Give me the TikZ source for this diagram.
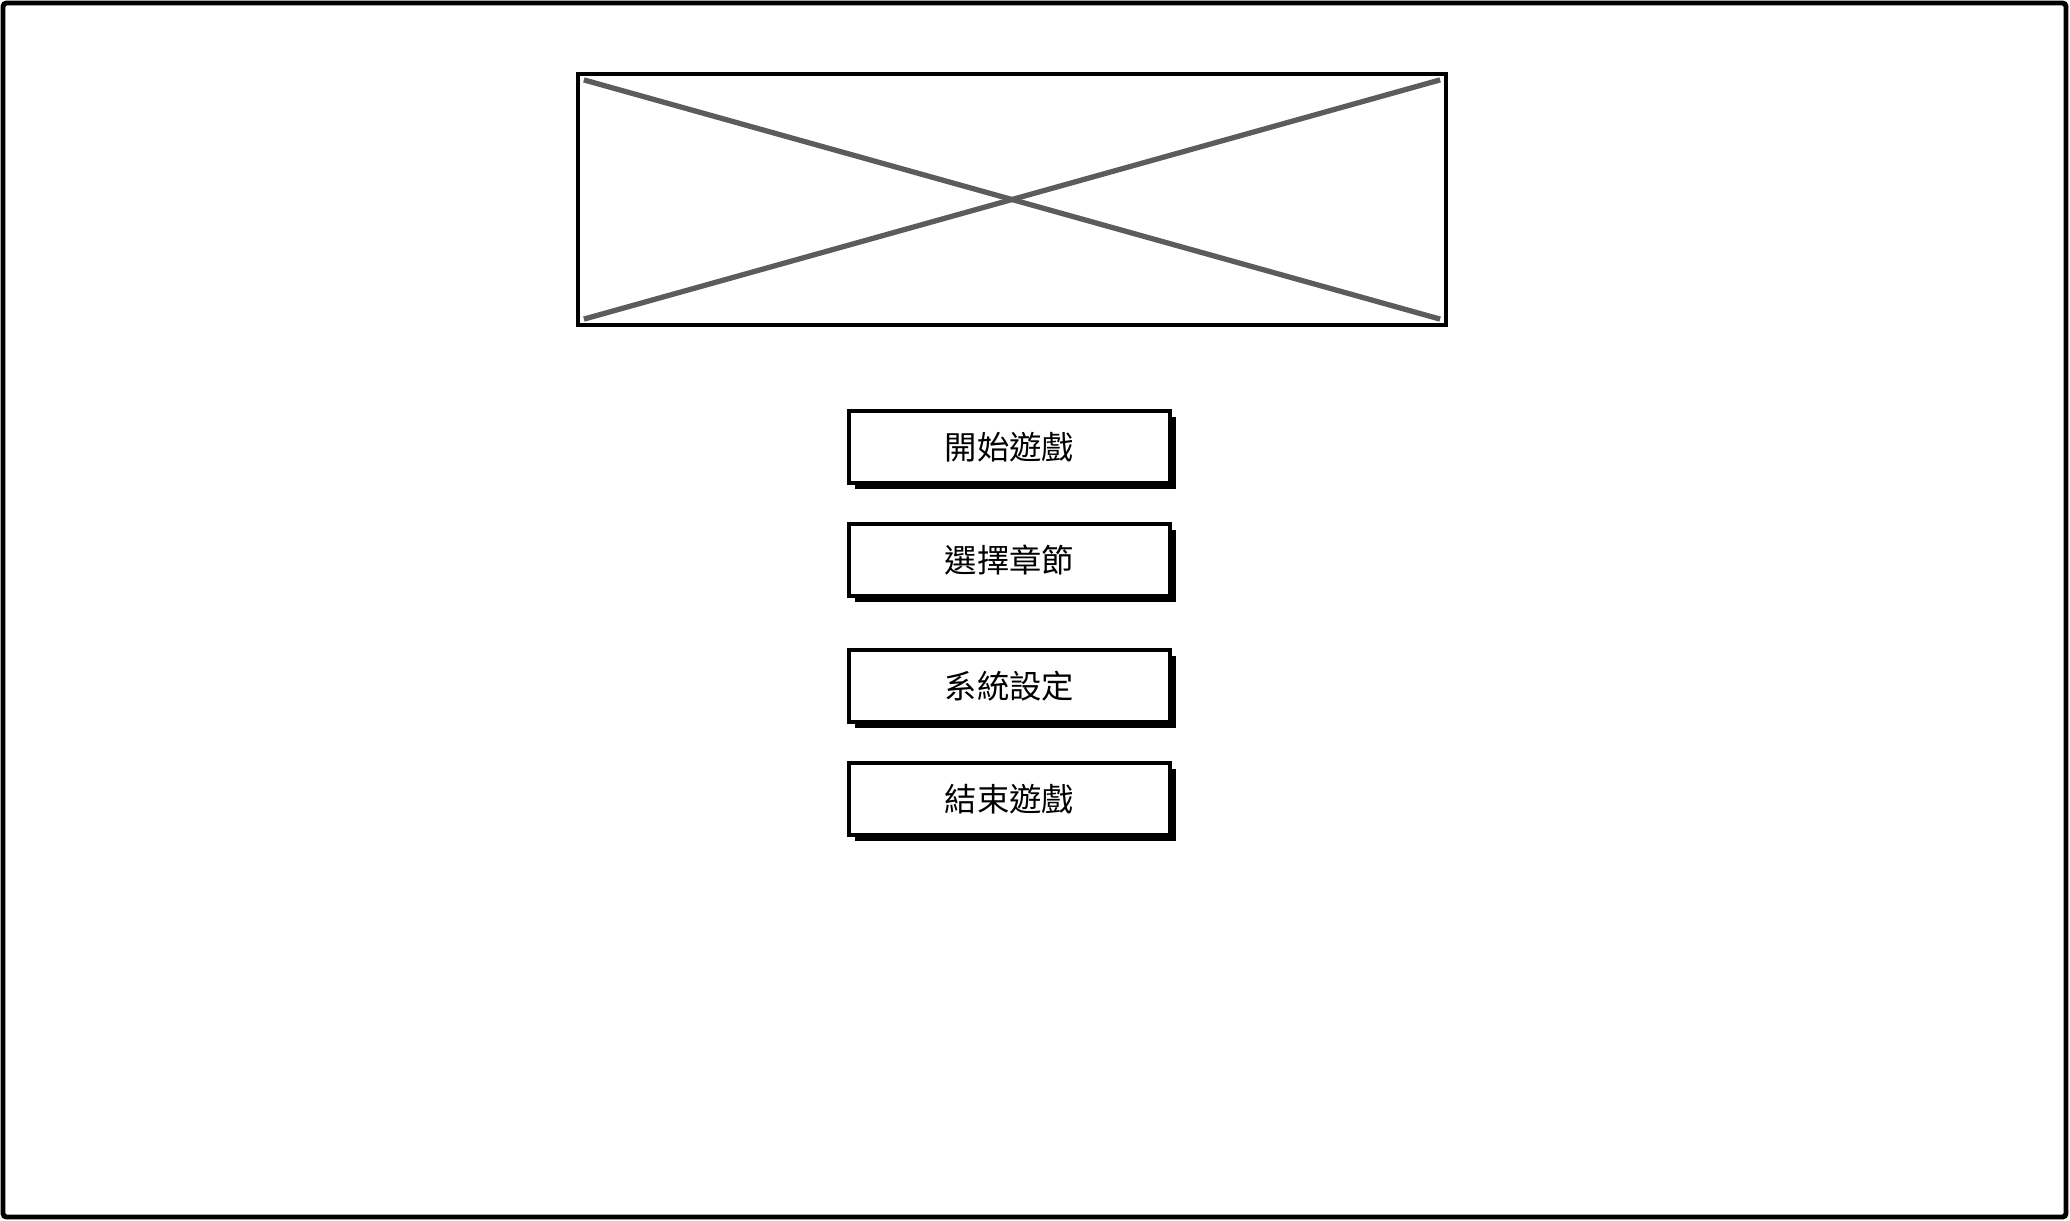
\documentclass[tikz,border=0pt]{standalone}
\usepackage{fontspec}
\newfontfamily\cjk{Noto Sans CJK TC}
\usetikzlibrary{shadows}

\tikzset{
	menubutton/.style={draw=black, line width=1pt, fill=white, minimum width=3.21cm, minimum height=0.72cm, inner sep=0pt, font=\cjk\fontsize{9.2}{11}\selectfont,
		drop shadow={shadow xshift=0.06cm, shadow yshift=-0.06cm, fill=black, opacity=1}},
	picbox/.style={draw=black, line width=1.2pt, minimum width=8.68cm, minimum height=2.51cm, inner sep=0pt},
	crossline/.style={draw=black!64, line width=1.5pt}
}

\begin{document}
\begin{tikzpicture}
	\useasboundingbox (0,0) rectangle (20.7,-12.2);
	% Draw the screen frame
	\draw[line width=1.4pt, rounded corners=1pt] (0.03,-0.03) rectangle (20.66,-12.17);
	% Draw the title picture placeholder
	\node[picbox] (logo) at (10.12,-1.995) {};
	\draw[crossline] ([shift={(0.08,-0.08)}]logo.north west) -- ([shift={(-0.08,0.08)}]logo.south east);
	\draw[crossline] ([shift={(0.08,0.08)}]logo.south west) -- ([shift={(-0.08,-0.08)}]logo.north east);
	% Draw the menu buttons
	\foreach \y/\name/\btntext in {-4.47/start/開始遊戲,
		-5.60/chapter/選擇章節,
		-6.86/settings/系統設定,
		-7.99/quit/結束遊戲}
	{\node[menubutton] (\name) at (10.095,\y) {\btntext};}
\end{tikzpicture}
\end{document}
